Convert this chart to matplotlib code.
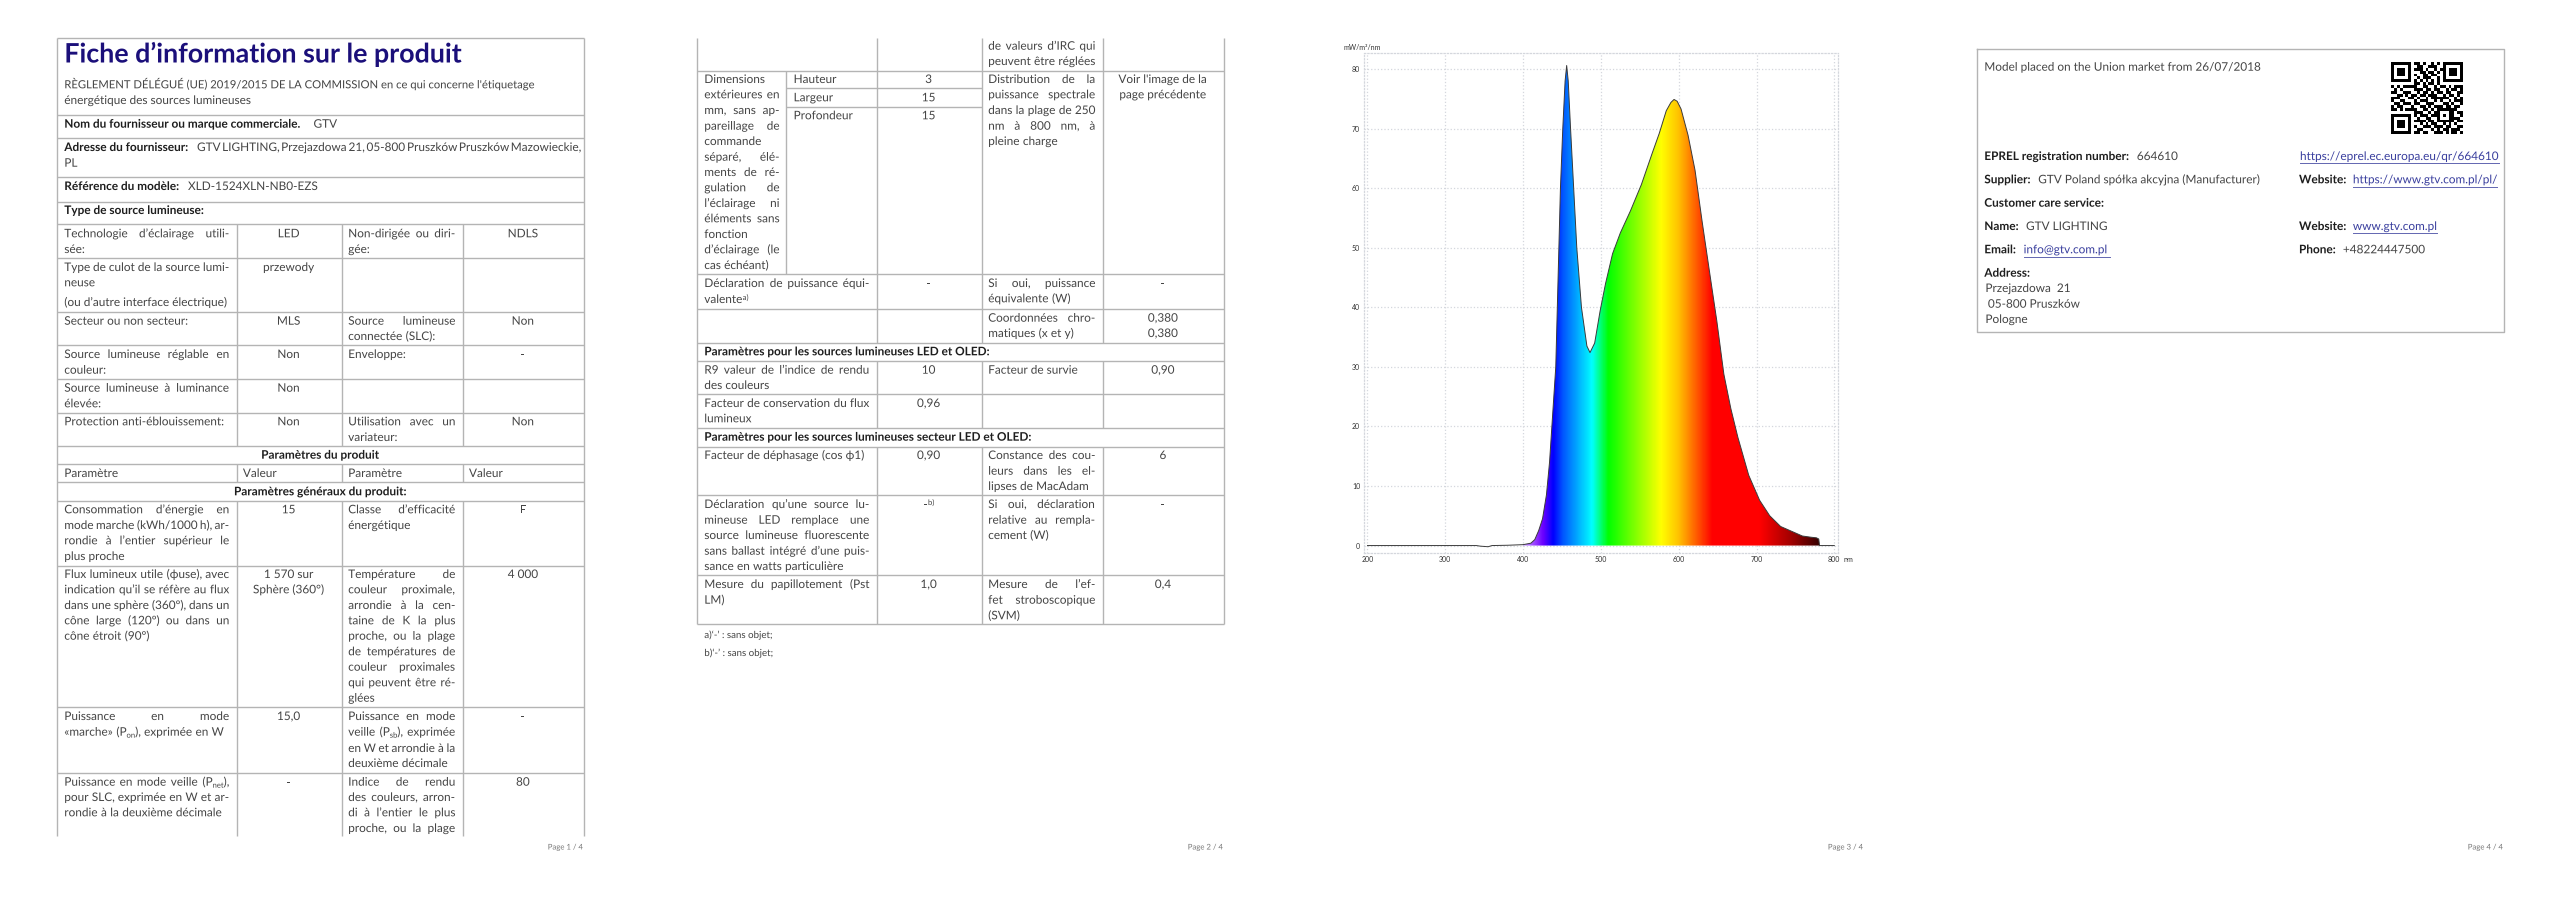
import re
import numpy as np
import matplotlib
matplotlib.use("Agg")
import matplotlib.pyplot as plt
import matplotlib.patheffects as pe
from matplotlib.colors import LinearSegmentedColormap

plt.rcParams['font.family'] = ['Lato', 'DejaVu Sans']

wavelength = [200, 340, 345, 355, 360, 380, 400, 410, 415, 420, 425, 430, 434, 437, 440, 442, 444, 446,
              448, 451, 454, 456, 458, 461, 465, 469, 475, 482, 486, 492, 499, 506, 515, 525, 538,
              552, 566, 575, 584, 590, 594, 598, 603, 612, 621, 630, 639, 649, 658, 667, 676, 690,
              704, 717, 731, 745, 759, 770, 777, 780, 781, 800]
power = [0, 0, -0.1, -0.2, 0, 0.05, 0.15, 0.4, 1.0, 2.5, 4.5, 8.5, 14, 20, 26, 30, 40, 50,
         60, 70, 78, 80.6, 78, 70, 60, 50, 40, 33.5, 32.4, 34, 39.4, 44, 49, 52.5, 56.2,
         60.6, 65.9, 69.2, 73, 74.4, 74.9, 74.6, 73.3, 68.9, 63, 54.5, 46.5, 37.7, 28.8, 23, 18.2, 11.8,
         7.6, 5, 3.2, 2.4, 1.6, 1.4, 1.3, 1.1, 0, 0]
color_wl = [400, 414, 425, 438, 451, 488, 509, 577, 600, 643, 704, 745, 780, 800]
color_hex = ['#c090ff', '#9a40ff', '#6a00ff', '#0000ff', '#0058ff', '#00ffff', '#00ff00', '#ffff00',
             '#ffc000', '#ff0000', '#ff0000', '#a00000', '#380000', '#380000']
x_ticks = [200, 300, 400, 500, 600, 700, 800]
y_ticks = [0, 10, 20, 30, 40, 50, 60, 70, 80]

qr_rows = [
    "1111111011010010101111111",
    "1000001001100111001000001",
    "1011101011101001011011101",
    "1011101000110110101011101",
    "1011101010011011001011101",
    "1000001001011100101000001",
    "1111111010101010101111111",
    "0000000011010110100000000",
    "1010111110011001011010111",
    "0101000011101101100101101",
    "1100111001011010110110011",
    "0011010110110111001011010",
    "1110001101001011111100101",
    "1001100010111001010010111",
    "0110111011001110001101001",
    "1011000100110101110110110",
    "1101011110011010111111100",
    "0000000011100101100011011",
    "1111111010111011101011001",
    "1000001001001100100011110",
    "1011101011110110111111011",
    "1011101000101011001010100",
    "1011101010011101110110011",
    "1000001001100010101101110",
    "1111111011011001110101101",
]

TXT = '#454545'
BLD = '#1e1e1e'
LINK = '#3a3f9e'
RULE = '#b4b4b4'
BODY = 8.5

fig = plt.figure(figsize=(25.6, 9.05), dpi=100)
bg = fig.add_axes([0, 0, 1, 1])
bg.set_xlim(0, 2560)
bg.set_ylim(905, 0)
bg.axis('off')
renderer = fig.canvas.get_renderer()


def width_of(s, size=BODY, weight='normal'):
    t = bg.text(0, 0, s, fontsize=size, fontweight=weight)
    w = t.get_window_extent(renderer).width
    t.remove()
    return w


def seg_width(word, weight='normal'):
    w = 0
    for part in re.split(r'(~[^~]*~|\^[^^]*\^)', word):
        if not part:
            continue
        if part[0] in '~^':
            w += width_of(part[1:-1], BODY * 0.65, weight)
        else:
            w += width_of(part, BODY, weight)
    return w


def put(x, y, s, color=TXT, weight='normal', size=BODY, ha='left'):
    # y is the middle of the line as read from the page, text sits on a baseline below it
    # path effect makes agg draw the glyphs as paths so words in one line share a baseline
    bg.text(x, y + 4, s, color=color, fontweight=weight, fontsize=size, ha=ha, va='baseline',
            path_effects=[pe.Normal()])


def put_word(x, y, word, color=TXT, weight='normal'):
    for part in re.split(r'(~[^~]*~|\^[^^]*\^)', word):
        if not part:
            continue
        if part[0] == '~':
            put(x, y + 2, part[1:-1], color, weight, BODY * 0.65)
            x += width_of(part[1:-1], BODY * 0.65, weight)
        elif part[0] == '^':
            put(x, y - 3, part[1:-1], color, weight, BODY * 0.65)
            x += width_of(part[1:-1], BODY * 0.65, weight)
        else:
            put(x, y, part, color, weight)
            x += width_of(part, BODY, weight)


def para(x0, x1, ys, lines):
    # justified like the sheet: every line except the last one of the block
    for i, (y, s) in enumerate(zip(ys, lines)):
        words = s.split()
        widths = [seg_width(w) for w in words]
        last = i == len(lines) - 1
        if last or len(words) == 1:
            gap = 3.2
        else:
            gap = (x1 - x0 - sum(widths)) / (len(words) - 1)
        x = x0
        for w, wd in zip(words, widths):
            put_word(x, y, w)
            x += wd + gap


def hline(y, x0, x1):
    bg.plot([x0, x1], [y, y], color=RULE, lw=1.0, solid_capstyle='butt')


def vline(x, y0, y1):
    bg.plot([x, x], [y0, y1], color=RULE, lw=1.0, solid_capstyle='butt')


def footer(x, s):
    put(x, 845.5, s, color='#777777', size=5.6, ha='right')


# page 1
L, C1, C2, C3, R = 57, 236.5, 341.5, 462.5, 583.5
TL, TR = 64.3, 229.3
ML, MR = 348.2, 455.4
CC2, CC4 = 288.6, 522.9

for y in [38.3, 115.3, 138.3, 177.3, 201.7, 224.3, 258.3, 312, 345.3, 379, 412.7, 446.3, 464.3, 482.3, 501, 565.7, 707.3, 773]:
    hline(y, L, R)
vline(L, 38.3, 836)
vline(R, 38.3, 836)
for x in [C1, C2, C3]:
    vline(x, 224.3, 446.3)
    vline(x, 464.3, 482.3)
    vline(x, 501, 836)

put(TL, 58.5, "Fiche d\u2019information sur le produit", color='#1b0f7a', weight='bold', size=19.3)
put(TL, 84.3, "R\u00c8GLEMENT D\u00c9L\u00c9GU\u00c9 (UE) 2019/2015 DE LA COMMISSION en ce qui concerne l'\u00e9tiquetage", size=8.1)
put(TL, 100, "\u00e9nerg\u00e9tique des sources lumineuses")
put(TL, 123.7, "Nom du fournisseur ou marque commerciale.", BLD, 'bold')
put(313.5, 123.7, "GTV")
put(TL, 147, "Adresse du fournisseur:", BLD, 'bold')
para(197, 581.5, [147, 147], ["GTV LIGHTING, Przejazdowa 21, 05-800 Pruszk\u00f3w Pruszk\u00f3w Mazowieckie,", ""])
put(TL, 162.7, "PL")
put(TL, 186, "R\u00e9f\u00e9rence du mod\u00e8le:", BLD, 'bold')
put(188, 186, "XLD-1524XLN-NB0-EZS")
put(TL, 210, "Type de source lumineuse:", BLD, 'bold')

para(TL, TR, [233.3, 249], ["Technologie d\u2019\u00e9clairage utili-", "s\u00e9e:"])
para(TL, TR, [267, 282.3], ["Type de culot de la source lumi-", "neuse"])
put(TL, 302, "(ou d\u2019autre interface \u00e9lectrique)")
para(TL, TR, [320.7], ["Secteur ou non secteur:"])
para(TL, TR, [354, 369.7], ["Source lumineuse r\u00e9glable en", "couleur:"])
para(TL, TR, [387.7, 403.3], ["Source lumineuse \u00e0 luminance", "\u00e9lev\u00e9e:"])
para(TL, TR, [421.3], ["Protection anti-\u00e9blouissement:"])
for y, s in [(233.3, "LED"), (267, "przewody"), (320.7, "MLS"), (354, "Non"), (387.7, "Non"), (421.3, "Non")]:
    put(CC2, y, s, ha='center')
para(ML, MR, [233.3, 249], ["Non-dirig\u00e9e ou diri-", "g\u00e9e:"])
para(ML, MR, [320.7, 336], ["Source lumineuse", "connect\u00e9e (SLC):"])
para(ML, MR, [354], ["Enveloppe:"])
para(ML, MR, [421.3, 437], ["Utilisation avec un", "variateur:"])
for y, s in [(233.3, "NDLS"), (320.7, "Non"), (354, "-"), (421.3, "Non")]:
    put(CC4, y, s, ha='center')

put((L + R) / 2, 454.7, "Param\u00e8tres du produit", BLD, 'bold', ha='center')
put(TL, 473, "Param\u00e8tre")
put(242.9, 473, "Valeur")
put(ML, 473, "Param\u00e8tre")
put(469, 473, "Valeur")
put((L + R) / 2, 491.3, "Param\u00e8tres g\u00e9n\u00e9raux du produit:", BLD, 'bold', ha='center')

para(TL, TR, [509.3, 525, 540.3, 556], ["Consommation d\u2019\u00e9nergie en", "mode marche (kWh/1000 h), ar-",
                                       "rondie \u00e0 l\u2019entier sup\u00e9rieur le", "plus proche"])
para(TL, TR, [574, 589.3, 605, 620.3, 635.7], ["Flux lumineux utile (\u03d5use), avec", "indication qu\u2019il se r\u00e9f\u00e8re au flux",
                                              "dans une sph\u00e8re (360\u00ba), dans un", "c\u00f4ne large (120\u00ba) ou dans un",
                                              "c\u00f4ne \u00e9troit (90\u00ba)"])
para(TL, TR, [716, 731.7], ["Puissance en mode", "\u00abmarche\u00bb (P~on~), exprim\u00e9e en W"])
para(TL, TR, [781.7, 797, 812.3], ["Puissance en mode veille (P~net~),", "pour SLC, exprim\u00e9e en W et ar-",
                                  "rondie \u00e0 la deuxi\u00e8me d\u00e9cimale"])
put(CC2, 509.3, "15", ha='center')
put(CC2, 574, "1 570 sur", ha='center')
put(CC2, 589.3, "Sph\u00e8re (360\u00b0)", ha='center')
put(CC2, 716, "15,0", ha='center')
put(CC2, 781.7, "-", ha='center')
para(ML, MR, [509.3, 525], ["Classe d\u2019efficacit\u00e9", "\u00e9nerg\u00e9tique"])
para(ML, MR, [574, 589.3, 605, 620.3, 635.7, 651.3, 666.7, 682.3, 697.7],
     ["Temp\u00e9rature de", "couleur proximale,", "arrondie \u00e0 la cen-", "taine de K la plus", "proche, ou la plage",
      "de temp\u00e9ratures de", "couleur proximales", "qui peuvent \u00eatre r\u00e9-", "gl\u00e9es"])
para(ML, MR, [716, 731.7, 748, 763], ["Puissance en mode", "veille (P~sb~), exprim\u00e9e", "en W et arrondie \u00e0 la",
                                     "deuxi\u00e8me d\u00e9cimale"])
para(ML, MR, [781.7, 797, 812.3, 828, 843.6], ["Indice de rendu", "des couleurs, arron-", "di \u00e0 l\u2019entier le plus",
                                              "proche, ou la plage", ""])
for y, s in [(509.3, "F"), (574, "4 000"), (716, "-"), (781.7, "80")]:
    put(CC4, y, s, ha='center')
footer(583, "Page 1 / 4")

# page 2, same columns shifted
DX = 640
L2, C12, C22, C32, R2 = L + DX, C1 + DX, C2 + DX, C3 + DX, R + DX
SUB = 786.4
TL2, TR2, ML2, MR2 = TL + DX, TR + DX, ML + DX, MR + DX
CC22, CC42 = CC2 + DX, CC4 + DX

for y in [70.7, 274.3, 309.3, 342.7, 361, 394.3, 428.3, 446.5, 495.3, 575.3, 624.3]:
    hline(y, L2, R2)
hline(88.3, SUB, C22)
hline(106.7, SUB, C22)
vline(L2, 38.3, 624.3)
vline(R2, 38.3, 624.3)
for x in [C12, C22, C32]:
    vline(x, 38.3, 342.7)
    vline(x, 361, 428.3)
    vline(x, 446.5, 624.3)
vline(SUB, 70.7, 274.3)

para(ML2, MR2, [45.7, 61], ["de valeurs d\u2019IRC qui", "peuvent \u00eatre r\u00e9gl\u00e9es"])
para(TL2, 779.6, [79, 94.3, 110, 125.7, 141, 156.7, 172, 187.3, 203, 218.3, 234, 249.3, 265],
     ["Dimensions", "ext\u00e9rieures en", "mm, sans ap-", "pareillage de", "commande", "s\u00e9par\u00e9, \u00e9l\u00e9-", "ments de r\u00e9-",
      "gulation de", "l\u2019\u00e9clairage ni", "\u00e9l\u00e9ments sans", "fonction", "d\u2019\u00e9clairage (le", "cas \u00e9ch\u00e9ant)"])
for y, s, v in [(79, "Hauteur", "3"), (97.3, "Largeur", "15"), (115.3, "Profondeur", "15")]:
    put(793.6, y, s)
    put(CC22, y, v, ha='center')
para(ML2, MR2, [79, 94.3, 110, 125.7, 141], ["Distribution de la", "puissance spectrale", "dans la plage de 250",
                                            "nm \u00e0 800 nm, \u00e0", "pleine charge"])
put(CC42, 79, "Voir l'image de la", ha='center')
put(CC42, 94.3, "page pr\u00e9c\u00e9dente", ha='center')
para(TL2, TR2, [283, 299], ["D\u00e9claration de puissance \u00e9qui-", "valente^a)^"])
put(CC22, 283, "-", ha='center')
para(ML2, MR2, [283, 298.3], ["Si oui, puissance", "\u00e9quivalente (W)"])
put(CC42, 283, "-", ha='center')
para(ML2, MR2, [317.7, 333], ["Coordonn\u00e9es chro-", "matiques (x et y)"])
put(CC42, 317.7, "0,380", ha='center')
put(CC42, 333, "0,380", ha='center')
put(TL2, 351.3, "Param\u00e8tres pour les sources lumineuses LED et OLED:", BLD, 'bold')
para(TL2, TR2, [369.7, 385], ["R9 valeur de l\u2019indice de rendu", "des couleurs"])
put(CC22, 369.7, "10", ha='center')
put(ML2, 369.7, "Facteur de survie")
put(CC42, 369.7, "0,90", ha='center')
para(TL2, TR2, [403, 418.3], ["Facteur de conservation du flux", "lumineux"])
put(CC22, 403, "0,96", ha='center')
put(TL2, 436.7, "Param\u00e8tres pour les sources lumineuses secteur LED et OLED:", BLD, 'bold')
para(TL2, TR2, [455], ["Facteur de d\u00e9phasage (cos \u03d51)"])
put(CC22, 455, "0,90", ha='center')
para(ML2, MR2, [455, 470.7, 486], ["Constance des cou-", "leurs dans les el-", "lipses de MacAdam"])
put(CC42, 455, "6", ha='center')
para(TL2, TR2, [504, 519.7, 535, 550.7, 566], ["D\u00e9claration qu\u2019une source lu-", "mineuse LED remplace une",
                                              "source lumineuse fluorescente", "sans ballast int\u00e9gr\u00e9 d\u2019une puis-",
                                              "sance en watts particuli\u00e8re"])
put_word(CC22 - 5, 504, "-^b)^")
para(ML2, MR2, [504, 519.7, 535], ["Si oui, d\u00e9claration", "relative au rempla-", "cement (W)"])
put(CC42, 504, "-", ha='center')
para(TL2, TR2, [584, 599.7], ["Mesure du papillotement (Pst", "LM)"])
put(CC22, 584, "1,0", ha='center')
para(ML2, MR2, [584, 599.7, 615.3], ["Mesure de l\u2019ef-", "fet stroboscopique", "(SVM)"])
put(CC42, 584, "0,4", ha='center')
put(TL2, 634, "a)\u2018-\u2019 : sans objet;", size=7)
put(TL2, 652, "b)\u2018-\u2019 : sans objet;", size=7)
footer(583 + DX, "Page 2 / 4")

# page 3, the spectrum
footer(583 + 2 * DX, "Page 3 / 4")
ax = fig.add_axes([1363.6 / 2560, 1 - 553 / 905, (1837.5 - 1363.6) / 2560, (553 - 53) / 905])
ax.set_facecolor('none')
xlim = (195, 804.1)
ylim = (-1.25, 82.7)
wl_span = np.linspace(color_wl[0], color_wl[-1], 800).reshape(1, -1)
stops = [(w - color_wl[0]) / (color_wl[-1] - color_wl[0]) for w in color_wl]
cmap = LinearSegmentedColormap.from_list('spectrum', list(zip(stops, color_hex)))
im = ax.imshow(wl_span, cmap=cmap, aspect='auto', extent=(color_wl[0], color_wl[-1], 0, 82), zorder=2)
area = ax.fill_between(wavelength, 0, power, color='none', lw=0)
im.set_clip_path(area.get_paths()[0], transform=ax.transData)
ax.plot(wavelength, power, color='#3a3a3a', lw=0.7, zorder=3)
ax.set_xlim(*xlim)
ax.set_ylim(*ylim)
ax.set_xticks(x_ticks)
ax.set_yticks(y_ticks)
ax.tick_params(length=0, labelsize=5, labelcolor='#333333', pad=2.5)
ax.grid(True, color='#d4d7dd', linestyle=':', lw=0.9, zorder=0)
ax.set_axisbelow(True)
for side in ax.spines.values():
    side.set_linestyle(':')
    side.set_color('#d4d7dd')
    side.set_linewidth(0.9)
bg.text(1343, 50, "mW/m\u00b2/nm", fontsize=5, color='#333333')
bg.text(1843, 562, "nm", fontsize=5, color='#333333')

# page 4
X0, X1, Y0, Y1 = 1977, 2503.5, 49.3, 332
bg.plot([X0, X1, X1, X0, X0], [Y0, Y0, Y1, Y1, Y0], color=RULE, lw=1.0)
TL4 = 1984.3
put(TL4, 66.7, "Model placed on the Union market from 26/07/2018")
put(TL4, 156, "EPREL registration number:", BLD, 'bold')
put(2136.8, 156, "664610")
put(TL4, 179.3, "Supplier:", BLD, 'bold')
put(2038.2, 179.3, "GTV Poland sp\u00f3\u0142ka akcyjna (Manufacturer)")
put(TL4, 202.7, "Customer care service:", BLD, 'bold')
put(TL4, 226, "Name:", BLD, 'bold')
put(2026, 226, "GTV LIGHTING")
put(TL4, 249.3, "Email:", BLD, 'bold')
put(TL4, 272.7, "Address:", BLD, 'bold')
put(1985.4, 288, "Przejazdowa  21")
put(1987.9, 303.7, "05-800 Pruszk\u00f3w")
put(1985.4, 319, "Pologne")
put(2299, 179.3, "Website:", BLD, 'bold')
put(2299, 226, "Website:", BLD, 'bold')
put(2299, 249.3, "Phone:", BLD, 'bold')
put(2342.9, 249.3, "+48224447500")
for x, y, s, xe in [(2300, 156, "https://eprel.ec.europa.eu/qr/664610", 2499.3),
                    (2352.9, 179.3, "https://www.gtv.com.pl/pl/", 2496.8),
                    (2352.9, 226, "www.gtv.com.pl", 2436.8),
                    (2023.6, 249.3, "info@gtv.com.pl", 2110)]:
    put(x, y, s, color=LINK)
    bg.plot([x, xe], [y + 7.5, y + 7.5], color=LINK, lw=0.7, alpha=0.8)
qr = np.array([[int(c) for c in row] for row in qr_rows])
bg.imshow(qr, cmap='gray_r', extent=(2391, 2463, 134, 62), aspect='auto', interpolation='nearest', zorder=2)
bg.set_xlim(0, 2560)
bg.set_ylim(905, 0)
footer(583 + 3 * DX, "Page 4 / 4")

fig.savefig("out.png", dpi=100, facecolor='white')
